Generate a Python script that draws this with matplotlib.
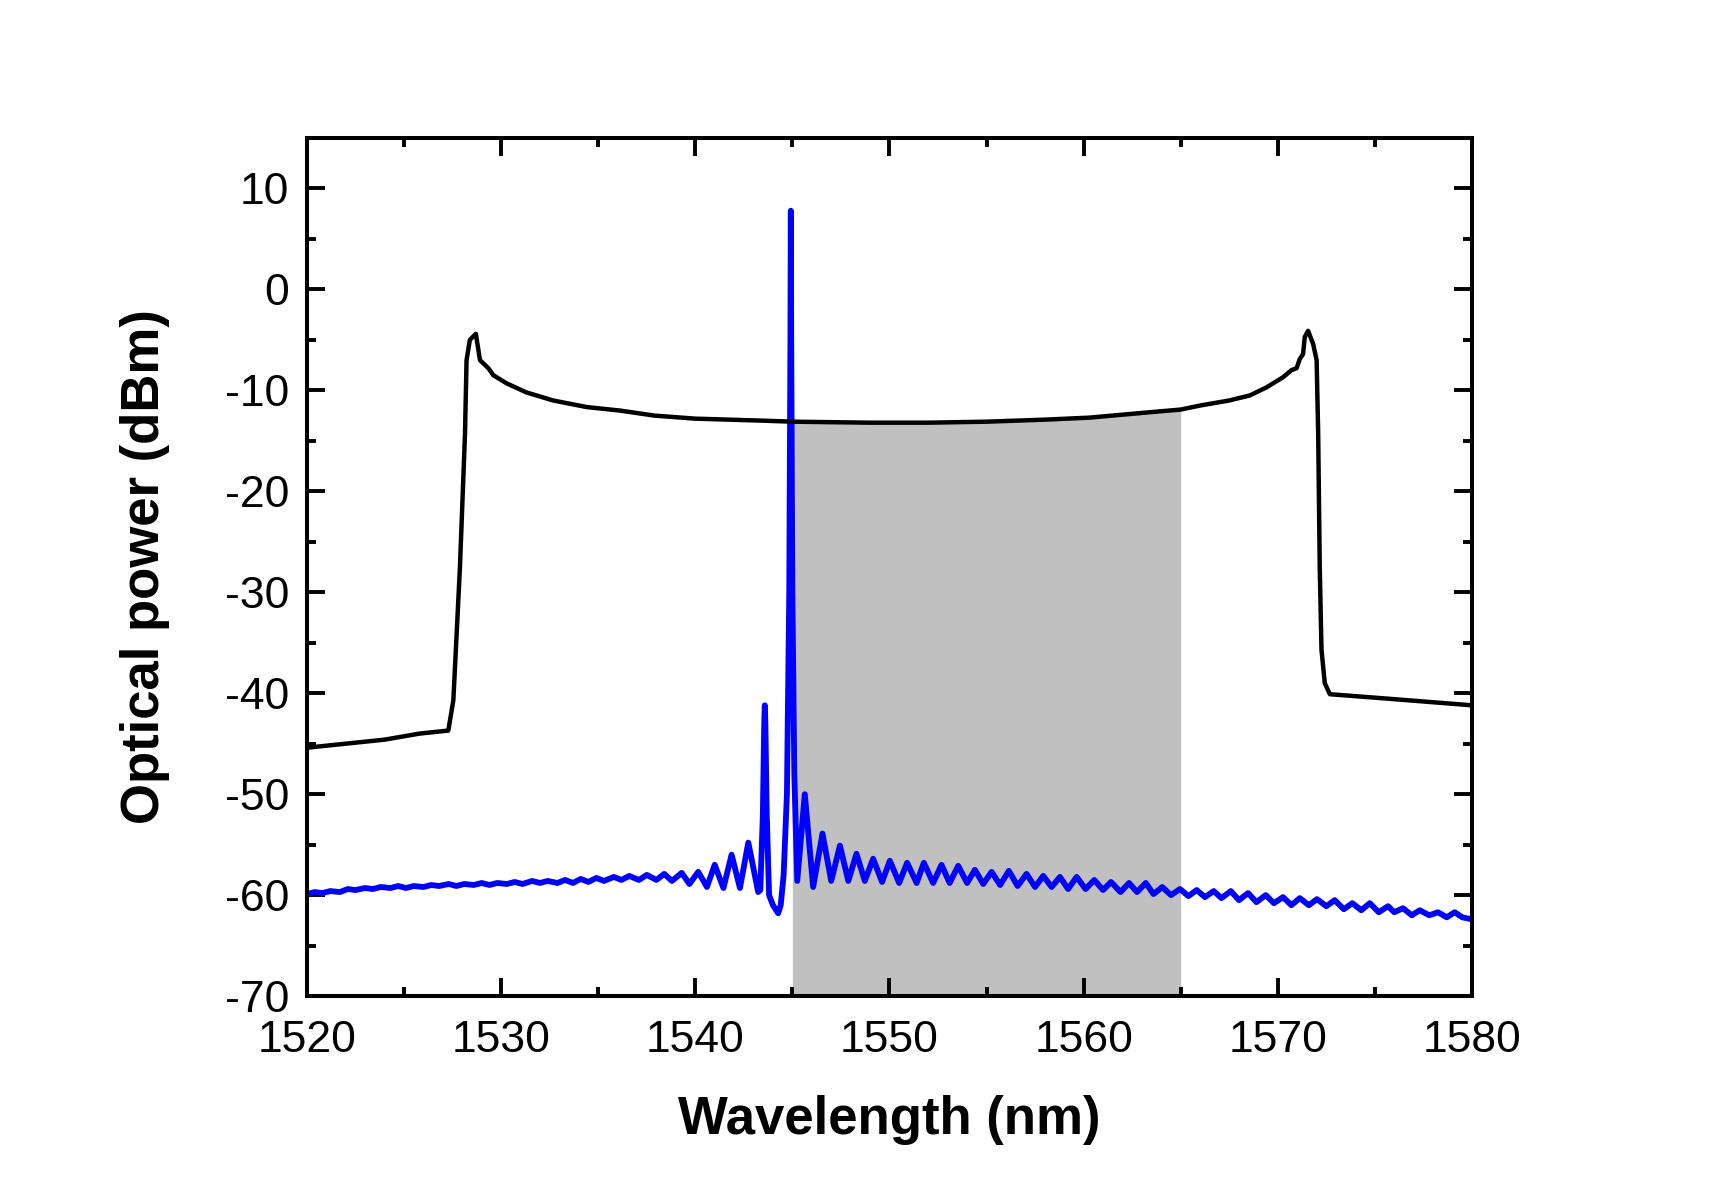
import numpy as np
import matplotlib.pyplot as plt
from matplotlib.ticker import MultipleLocator

plt.rcParams['font.family'] = ['Liberation Sans', 'DejaVu Sans']
plt.rcParams['axes.unicode_minus'] = False

# black trace: broadband spectrum (nm, dBm)
black_nm = [1520.0, 1524.0, 1525.8, 1527.28, 1527.54, 1527.88, 1528.14, 1528.22,
            1528.39, 1528.7, 1528.91, 1529.34, 1529.6, 1530.28, 1531.3, 1532.68,
            1534.4, 1536.12, 1537.9, 1540.0, 1543.5, 1545.0, 1549.0, 1552.0,
            1555.0, 1558.0, 1560.3, 1563.2, 1565.0, 1566.0, 1567.5, 1568.56,
            1569.42, 1570.27, 1570.7, 1570.97, 1571.13, 1571.3, 1571.39, 1571.56,
            1571.82, 1572.0, 1572.08, 1572.16, 1572.25, 1572.42, 1572.68, 1575.4,
            1580.0]
black_db = [-45.4, -44.6, -44.0, -43.7, -40.7, -27.5, -14.3, -7.0,
            -5.0, -4.4, -7.0, -7.8, -8.5, -9.3, -10.2, -11.0,
            -11.65, -12.0, -12.5, -12.8, -13.0, -13.1, -13.2, -13.2,
            -13.1, -12.9, -12.7, -12.2, -11.9, -11.5, -11.0, -10.5,
            -9.7, -8.7, -8.0, -7.8, -6.9, -6.4, -4.7, -4.1,
            -5.4, -7.0, -14.3, -27.5, -35.7, -39.0, -40.1, -40.5,
            -41.2]

# blue trace: lasing spectrum with ripple (nm, dBm)
blue_nm = [1520.0, 1520.4, 1520.8, 1521.2, 1521.7, 1522.1, 1522.5, 1523.0, 1523.4, 1523.8,
           1524.3, 1524.7, 1525.1, 1525.5, 1526.0, 1526.4, 1526.8, 1527.3, 1527.7, 1528.1,
           1528.6, 1529.0, 1529.4, 1529.8, 1530.3, 1530.7, 1531.1, 1531.6, 1532.0, 1532.4,
           1532.9, 1533.3, 1533.7, 1534.1, 1534.5, 1534.9, 1535.3, 1535.8, 1536.2, 1536.6,
           1537.1, 1537.5, 1538.0, 1538.4, 1538.8, 1539.3, 1539.7, 1540.15, 1540.6, 1541.0,
           1541.45, 1541.87, 1542.3, 1542.73, 1543.24, 1543.35, 1543.48, 1543.55, 1543.58, 1543.61,
           1543.68, 1543.8, 1544.0, 1544.27, 1544.4, 1544.55, 1544.72, 1544.84, 1544.9, 1544.92,
           1544.94, 1545.0, 1545.1, 1545.25, 1545.64, 1546.07, 1546.55, 1547.0, 1547.45, 1547.88,
           1548.3, 1548.73, 1549.16, 1549.62, 1550.02, 1550.5, 1550.91, 1551.4, 1551.77, 1552.25,
           1552.68, 1553.1, 1553.54, 1554.0, 1554.4, 1554.83, 1555.26, 1555.7, 1556.15, 1556.6,
           1557.06, 1557.5, 1557.92, 1558.35, 1558.78, 1559.2, 1559.64, 1560.1, 1560.55, 1561.0,
           1561.41, 1561.9, 1562.34, 1562.75, 1563.2, 1563.6, 1564.05, 1564.5, 1564.96, 1565.4,
           1565.82, 1566.25, 1566.7, 1567.1, 1567.58, 1568.0, 1568.47, 1568.9, 1569.38, 1569.8,
           1570.27, 1570.7, 1571.13, 1571.6, 1572.02, 1572.5, 1572.93, 1573.4, 1573.84, 1574.3,
           1574.74, 1575.2, 1575.68, 1576.0, 1576.45, 1576.9, 1577.31, 1577.8, 1578.25, 1578.7,
           1579.11, 1579.5, 1580.0]
blue_db = [-59.9, -59.7, -59.8, -59.6, -59.7, -59.4, -59.5, -59.3, -59.4, -59.2,
           -59.3, -59.1, -59.3, -59.1, -59.2, -59.0, -59.1, -58.9, -59.1, -58.9,
           -59.0, -58.8, -59.0, -58.8, -58.9, -58.7, -58.9, -58.6, -58.8, -58.6,
           -58.8, -58.5, -58.8, -58.4, -58.7, -58.3, -58.6, -58.2, -58.5, -58.1,
           -58.5, -58.0, -58.5, -57.9, -58.6, -57.8, -58.9, -57.7, -59.2, -57.0,
           -59.3, -56.0, -59.3, -54.8, -59.7, -59.5, -52.0, -43.0, -41.2, -43.0,
           -52.0, -60.0, -61.0, -61.8, -61.0, -58.0, -50.0, -30.0, -5.0, 7.8,
           -5.0, -30.0, -48.0, -58.6, -50.0, -59.2, -53.9, -58.6, -55.1, -58.6,
           -55.9, -58.6, -56.4, -58.7, -56.6, -58.8, -56.8, -58.8, -56.8, -58.8,
           -57.0, -58.8, -57.1, -58.8, -57.5, -58.9, -57.7, -59.0, -57.6, -59.1,
           -57.9, -59.2, -58.1, -59.2, -58.2, -59.4, -58.2, -59.4, -58.5, -59.5,
           -58.7, -59.7, -58.8, -59.7, -58.8, -59.9, -59.2, -60.0, -59.4, -60.1,
           -59.5, -60.2, -59.6, -60.3, -59.6, -60.5, -59.8, -60.7, -60.0, -60.8,
           -60.2, -61.0, -60.3, -61.0, -60.4, -61.1, -60.5, -61.4, -60.8, -61.5,
           -60.8, -61.7, -61.1, -61.7, -61.3, -62.0, -61.5, -62.0, -61.7, -62.2,
           -61.7, -62.2, -62.4]

band = (1545.0, 1565.0)

fig = plt.figure(figsize=(17.1, 11.94), dpi=100)
ax = fig.add_axes([0.1795, 0.1658, 0.6813, 0.7186])

bn = np.array(black_nm)
bd = np.array(black_db)
sel = (bn >= band[0]) & (bn <= band[1])
ax.fill_between(bn[sel], -70, bd[sel], color='#c0c0c0', lw=0, zorder=1)

ax.plot(black_nm, black_db, color='black', lw=3.2, zorder=3,
        solid_joinstyle='round')
ax.plot(blue_nm, blue_db, color='#0000ff', lw=4.2, zorder=2,
        solid_joinstyle='round')

ax.set_xlim(1520, 1580)
ax.set_ylim(-70, 15)
ax.xaxis.set_major_locator(MultipleLocator(10))
ax.xaxis.set_minor_locator(MultipleLocator(5))
ax.yaxis.set_major_locator(MultipleLocator(10))
ax.yaxis.set_minor_locator(MultipleLocator(5))
ax.set_yticks(np.arange(-70, 11, 10))

ax.tick_params(which='both', direction='in', top=True, right=True, width=2.8,
               labelsize=32, pad=13)
ax.tick_params(axis='x', which='both', pad=17)
ax.tick_params(which='major', length=13)
ax.tick_params(which='minor', length=6.5)
for s in ax.spines.values():
    s.set_linewidth(2.9)

ax.set_xlabel('Wavelength (nm)', fontsize=38, fontweight='bold', labelpad=25)
ax.set_ylabel('Optical power (dBm)', fontsize=38, fontweight='bold', labelpad=39)

fig.savefig('out.png', dpi=100)
